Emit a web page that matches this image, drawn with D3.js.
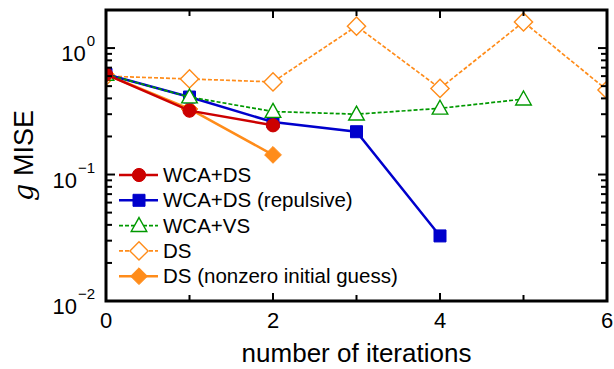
<!DOCTYPE html>
<html>
<head>
<meta charset="utf-8">
<script src="https://cdn.jsdelivr.net/npm/d3@7"></script>
<style>
  body { margin: 0; background: #fff; }
  text { font-family: "Liberation Sans", Arial, sans-serif; fill: #000; }
</style>
</head>
<body>
<script>
// values
var wcaDS = [[0, 0.62], [1, 0.32], [2, 0.245]];
var wcaDSrep = [[0, 0.62], [1, 0.41], [2, 0.26], [3, 0.218], [4, 0.0327]];
var wcaVS = [[0, 0.62], [1, 0.41], [2, 0.315], [3, 0.30], [4, 0.334], [5, 0.395]];
var ds = [[0, 0.60], [1, 0.57], [2, 0.54], [3, 1.49], [4, 0.48], [5, 1.61], [6, 0.466]];
var dsNonzero = [[0, 0.62], [1, 0.33], [2, 0.143]];
var xTicks = [0, 2, 4, 6];
var yDecades = [-2, -1, 0];

var series = [
  { name: "DS", data: ds, color: "#ff8c1a", dash: "4,2", marker: "diamond", fill: false, width: 1.7 },
  { name: "DS (nonzero initial guess)", data: dsNonzero, color: "#ff8c1a", dash: null, marker: "diamond", fill: true, width: 2.5 },
  { name: "WCA+DS (repulsive)", data: wcaDSrep, color: "#0000cc", dash: null, marker: "square", fill: true, width: 2.5 },
  { name: "WCA+VS", data: wcaVS, color: "#009900", dash: "4,2", marker: "triangle", fill: false, width: 1.7 },
  { name: "WCA+DS", data: wcaDS, color: "#cc0000", dash: null, marker: "circle", fill: true, width: 2.5 }
];
var legendOrder = ["WCA+DS", "WCA+DS (repulsive)", "WCA+VS", "DS", "DS (nonzero initial guess)"];

var width = 614, height = 369;
var margin = { left: 106, right: 7, top: 10, bottom: 68 };

var svg = d3.select("body").append("svg").attr("width", width).attr("height", height);

var x = d3.scaleLinear().domain([0, 6]).range([margin.left, width - margin.right]);
var y = d3.scaleLog().domain([0.01, 2]).range([height - margin.bottom, margin.top]);

svg.append("clipPath").attr("id", "clip").append("rect")
  .attr("x", x(0)).attr("y", y(2))
  .attr("width", x(6) - x(0)).attr("height", y(0.01) - y(2));

function markerPath(type, size) {
  var s = size;
  if (type == "circle") return d3.symbol(d3.symbolCircle, s * s * 0.95)();
  if (type == "square") return "M" + (-s / 2) + "," + (-s / 2) + "h" + s + "v" + s + "h" + (-s) + "Z";
  if (type == "diamond") return "M0," + (-s * 0.7) + "L" + (s * 0.7) + ",0L0," + (s * 0.7) + "L" + (-s * 0.7) + ",0Z";
  if (type == "triangle") return "M0," + (-s * 0.62) + "L" + (s * 0.6) + "," + (s * 0.45) + "L" + (-s * 0.6) + "," + (s * 0.45) + "Z";
}

var line = d3.line().x(function (d) { return x(d[0]); }).y(function (d) { return y(d[1]); });

var plot = svg.append("g").attr("clip-path", "url(#clip)");
series.forEach(function (s) {
  plot.append("path")
    .attr("d", line(s.data))
    .attr("fill", "none")
    .attr("stroke", s.color)
    .attr("stroke-width", s.width)
    .attr("stroke-dasharray", s.dash);
  plot.selectAll(null).data(s.data).enter().append("path")
    .attr("d", markerPath(s.marker, s.fill ? 12 : 13))
    .attr("transform", function (d) { return "translate(" + x(d[0]) + "," + y(d[1]) + ")"; })
    .attr("fill", s.fill ? s.color : "#fff")
    .attr("stroke", s.color)
    .attr("stroke-width", s.fill ? 1 : 1.4);
});

// frame
var x0 = x(0), x1 = x(6), yb = y(0.01), yt = y(2);
svg.append("rect").attr("x", x0).attr("y", yt).attr("width", x1 - x0).attr("height", yb - yt)
  .attr("fill", "none").attr("stroke", "#000").attr("stroke-width", 3);

var ticks = svg.append("g").attr("stroke", "#000").attr("stroke-width", 2);
d3.range(1, 6).forEach(function (v) {
  var len = v % 2 == 0 ? 8 : 6;
  ticks.append("line").attr("x1", x(v)).attr("x2", x(v)).attr("y1", yb).attr("y2", yb - len);
  ticks.append("line").attr("x1", x(v)).attr("x2", x(v)).attr("y1", yt).attr("y2", yt + len);
});
yDecades.forEach(function (e) {
  d3.range(1, 10).forEach(function (m) {
    var v = m * Math.pow(10, e);
    if (v > 2 || v <= 0.01) return;
    var len = m == 1 ? 9 : 6;
    ticks.append("line").attr("x1", x0).attr("x2", x0 + len).attr("y1", y(v)).attr("y2", y(v));
    ticks.append("line").attr("x1", x1).attr("x2", x1 - len).attr("y1", y(v)).attr("y2", y(v));
  });
});

// tick labels
xTicks.forEach(function (v) {
  svg.append("text").attr("x", x(v)).attr("y", yb + 27).attr("text-anchor", "middle")
    .attr("font-size", 22).text(v);
});
yDecades.forEach(function (e) {
  var t = svg.append("text").attr("x", x0 - 11).attr("y", y(Math.pow(10, e)) + 13)
    .attr("text-anchor", "end");
  t.append("tspan").attr("font-size", 22).text("10");
  t.append("tspan").attr("font-size", 15).attr("dx", 1).attr("dy", -15)
    .text(e == 0 ? "0" : "\u2212" + (-e));
});

// axis titles
svg.append("text").attr("x", (x0 + x1) / 2).attr("y", 362).attr("text-anchor", "middle")
  .attr("font-size", 26).text("number of iterations");
var ylab = svg.append("text").attr("transform", "translate(33," + ((yt + yb) / 2) + ") rotate(-90)")
  .attr("text-anchor", "middle").attr("font-size", 27);
ylab.append("tspan").attr("font-family", "DejaVu Serif, serif").attr("font-style", "italic").text("g");
ylab.append("tspan").text(" MISE");

// legend
var leg = svg.append("g");
legendOrder.forEach(function (name, i) {
  var s = series.find(function (d) { return d.name == name; });
  var ly = 175 + i * 25.3;
  leg.append("line").attr("x1", 119).attr("x2", 158).attr("y1", ly).attr("y2", ly)
    .attr("stroke", s.color).attr("stroke-width", s.width).attr("stroke-dasharray", s.dash);
  leg.append("path").attr("d", markerPath(s.marker, s.fill ? 12 : 13))
    .attr("transform", "translate(139," + ly + ")")
    .attr("fill", s.fill ? s.color : "#fff").attr("stroke", s.color).attr("stroke-width", s.fill ? 1 : 1.4);
  leg.append("text").attr("x", 163).attr("y", ly + 7).attr("font-size", 20.5).text(name);
});
</script>
</body>
</html>
